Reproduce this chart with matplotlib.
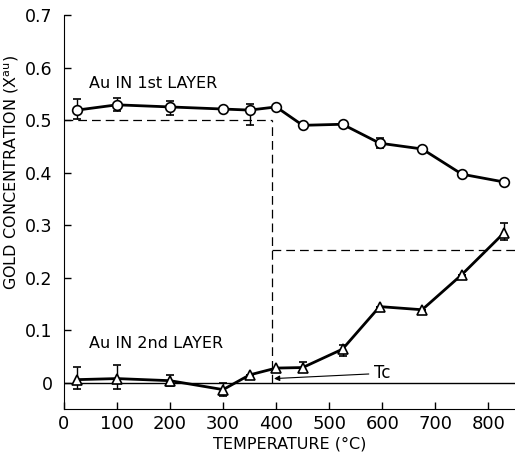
import matplotlib.pyplot as plt
import numpy as np

# Au in 1st layer (circles)
temp1 = [25, 100, 200, 300, 350, 400, 450, 525, 595, 675, 750, 830]
conc1 = [0.519, 0.529, 0.525, 0.521, 0.519, 0.525, 0.490, 0.492, 0.456, 0.445, 0.397, 0.382]
err1_lo = [0.017, 0.012, 0.015, 0.0, 0.029, 0.0, 0.0, 0.0, 0.009, 0.0, 0.0, 0.0]
err1_hi = [0.021, 0.013, 0.011, 0.0, 0.011, 0.0, 0.0, 0.0, 0.009, 0.0, 0.0, 0.0]

# Au in 2nd layer (triangles)
temp2 = [25, 100, 200, 300, 350, 400, 450, 525, 595, 675, 750, 830]
conc2 = [0.006, 0.008, 0.004, -0.013, 0.015, 0.028, 0.029, 0.064, 0.145, 0.139, 0.206, 0.286]
err2_lo = [0.017, 0.019, 0.010, 0.013, 0.0, 0.0, 0.009, 0.013, 0.0, 0.0, 0.0, 0.014]
err2_hi = [0.024, 0.026, 0.011, 0.013, 0.0, 0.0, 0.011, 0.008, 0.0, 0.0, 0.0, 0.019]

xticks = [0, 100, 200, 300, 400, 500, 600, 700, 800]
yticks = [0, 0.1, 0.2, 0.3, 0.4, 0.5, 0.6, 0.7]
ytick_labels = ['0', '0.1', '0.2', '0.3', '0.4', '0.5', '0.6', '0.7']

tc = 392  # critical temperature guide

fig = plt.figure(figsize=(5.15, 4.54), dpi=100)
ax = fig.add_axes([0.124, 0.099, 0.876, 0.868])

# guide lines
dash = (0, (7, 4))
ax.axhline(0, color='black', lw=1.0, zorder=1)
ax.plot([0, tc], [0.5, 0.5], ls=dash, color='black', lw=0.9)
ax.plot([tc, tc], [0.0, 0.5], ls=dash, color='black', lw=0.9)
ax.plot([tc, 850], [0.253, 0.253], ls=dash, color='black', lw=0.9)

ax.errorbar(temp1, conc1, yerr=[err1_lo, err1_hi], fmt='-o', color='black',
            lw=2.0, ms=7, mfc='white', mec='black', mew=1.2,
            elinewidth=1.0, capsize=3, zorder=3)
ax.errorbar(temp2, conc2, yerr=[err2_lo, err2_hi], fmt='-^', color='black',
            lw=2.0, ms=7.5, mfc='white', mec='black', mew=1.2,
            elinewidth=1.0, capsize=3, zorder=3)

ax.text(48, 0.57, 'Au IN 1st LAYER', fontsize=11.5, va='center')
ax.text(48, 0.075, 'Au IN 2nd LAYER', fontsize=11.5, va='center')

ax.annotate('Tc', xy=(396, 0.008), xytext=(585, 0.018),
            fontsize=12, va='center',
            arrowprops=dict(arrowstyle='-|>', color='black', lw=0.8,
                            mutation_scale=8, shrinkA=2, shrinkB=0))

ax.set_xlim(0, 850)
ax.set_ylim(-0.05, 0.7)
ax.set_xticks(xticks)
ax.set_yticks(yticks)
ax.set_yticklabels(ytick_labels)
ax.tick_params(direction='in', length=5, width=1)
ax.tick_params(axis='y', pad=8, labelsize=12.5)
ax.tick_params(axis='x', pad=4, labelsize=13)

for s in ['top', 'right']:
    ax.spines[s].set_visible(False)

ax.set_xlabel('TEMPERATURE (°C)', fontsize=11.5)
ax.xaxis.set_label_coords(0.5, -0.07)
ax.set_ylabel('GOLD CONCENTRATION (X$^{\\rm au}$)', fontsize=11.5)
ax.yaxis.set_label_coords(-0.095, 0.6)

fig.savefig('out.png', dpi=100)
